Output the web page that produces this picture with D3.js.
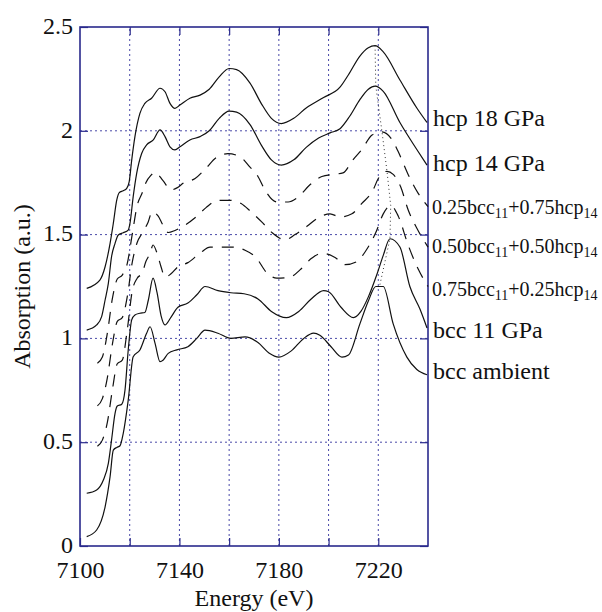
<!DOCTYPE html>
<html>
<head>
<meta charset="utf-8">
<script src="https://cdn.jsdelivr.net/npm/d3@7"></script>
</head>
<body style="margin:0; background:#fff">
<svg id="chart" width="602" height="612"></svg>
<script>
// spectra, [energy eV, absorption]
const hcp18 = [[7102.7,1.241],[7108.0,1.281],[7110.1,1.345],[7112.1,1.458],[7113.4,1.554],[7114.8,1.667],[7115.8,1.702],[7117.4,1.711],[7118.8,1.723],[7119.8,1.755],[7120.8,1.859],[7122.1,1.972],[7124.1,2.084],[7126.1,2.132],[7128.8,2.157],[7132.2,2.205],[7134.2,2.188],[7136.2,2.132],[7138.2,2.108],[7140.2,2.124],[7144.2,2.157],[7148.3,2.172],[7152,2.20],[7156,2.26],[7160,2.30],[7163,2.295],[7168.4,2.23],[7173,2.13],[7177,2.06],[7181,2.035],[7186,2.06],[7191,2.11],[7198,2.16],[7204.6,2.21],[7208,2.27],[7212.6,2.36],[7216,2.40],[7218.7,2.41],[7222,2.38],[7228.7,2.245],[7235.5,2.11],[7239.6,2.04]];
const hcp14 = [[7102.7,1.04],[7106.7,1.065],[7108.7,1.105],[7110.1,1.185],[7111.4,1.265],[7112.7,1.394],[7114.1,1.458],[7115.4,1.498],[7117.4,1.509],[7119.4,1.522],[7120.1,1.554],[7121.4,1.683],[7122.8,1.795],[7124.8,1.891],[7126.8,1.932],[7129.5,1.956],[7132.2,2.004],[7134.2,1.972],[7136.2,1.923],[7138.2,1.908],[7140.2,1.923],[7144.2,1.956],[7148.3,1.972],[7152,2.00],[7156,2.06],[7160,2.095],[7163,2.09],[7168.4,2.03],[7173,1.93],[7177,1.86],[7181,1.835],[7186,1.86],[7191,1.92],[7196,1.965],[7200.6,1.99],[7204.6,2.01],[7208.5,2.07],[7212.6,2.15],[7216,2.20],[7218.7,2.215],[7222,2.19],[7228.7,2.04],[7235.5,1.91],[7239.6,1.835]];
const mix25 = [[7107,0.88],[7109,0.91],[7111,1.025],[7113,1.19],[7115,1.286],[7117,1.305],[7119,1.36],[7121,1.50],[7123,1.64],[7125,1.70],[7126.5,1.75],[7128.5,1.785],[7130.2,1.80],[7133.4,1.76],[7136.6,1.715],[7139,1.725],[7141.8,1.75],[7146.3,1.77],[7150.7,1.82],[7154.7,1.87],[7159.5,1.89],[7164.4,1.875],[7168.4,1.825],[7171.6,1.78],[7174.4,1.715],[7179.2,1.657],[7183.7,1.657],[7187.7,1.68],[7192.5,1.74],[7197.3,1.78],[7201.8,1.79],[7205.8,1.797],[7209.8,1.86],[7213.4,1.91],[7217.5,1.98],[7221.5,1.995],[7225.9,1.95],[7228,1.90],[7232,1.79],[7236,1.70],[7240,1.635]];
const mix50 = [[7107,0.675],[7109,0.71],[7111,0.81],[7113,0.97],[7115,1.082],[7117,1.10],[7119,1.20],[7121,1.365],[7123,1.462],[7125,1.507],[7127.4,1.56],[7129,1.61],[7131.4,1.59],[7133.4,1.545],[7135.5,1.51],[7138.2,1.52],[7142.2,1.545],[7146.7,1.585],[7150.7,1.63],[7155.5,1.665],[7160.3,1.665],[7164.8,1.65],[7168.8,1.61],[7173.2,1.56],[7177.2,1.51],[7182.5,1.475],[7186.5,1.50],[7191.3,1.54],[7195.7,1.58],[7200.6,1.60],[7204.6,1.585],[7209.4,1.60],[7213.4,1.65],[7217.9,1.715],[7220,1.77],[7223.5,1.805],[7226,1.79],[7229,1.73],[7232,1.62],[7236,1.52],[7240,1.44]];
const mix75 = [[7107,0.48],[7109,0.51],[7111,0.595],[7113,0.75],[7115,0.878],[7117,0.895],[7119,1.04],[7121,1.227],[7123,1.29],[7125,1.314],[7126.5,1.37],[7128.2,1.41],[7129.4,1.45],[7131,1.41],[7132.6,1.345],[7134.2,1.295],[7136.5,1.31],[7139.4,1.345],[7143.4,1.365],[7148.7,1.415],[7152.3,1.44],[7156.7,1.44],[7161.5,1.44],[7166.4,1.425],[7170.8,1.39],[7175.2,1.315],[7179.2,1.29],[7184.5,1.295],[7188.5,1.33],[7193.3,1.387],[7197.3,1.41],[7202.6,1.39],[7206.6,1.355],[7211.4,1.37],[7214.6,1.415],[7219,1.51],[7222,1.60],[7225,1.64],[7228,1.59],[7232,1.45],[7236,1.335],[7240,1.25]];
const bcc11 = [[7102.7,0.254],[7106.7,0.27],[7109.4,0.318],[7111.4,0.398],[7112.7,0.511],[7114.1,0.639],[7115.0,0.674],[7116.8,0.683],[7118.1,0.751],[7119.4,0.944],[7120.8,1.089],[7122.1,1.113],[7124.1,1.121],[7126.1,1.125],[7127.5,1.185],[7129.4,1.29],[7131,1.22],[7132.6,1.11],[7134.2,1.065],[7136.5,1.10],[7139.4,1.15],[7143.4,1.17],[7147,1.21],[7150.3,1.25],[7155.5,1.23],[7160.7,1.22],[7166,1.215],[7171.6,1.19],[7177,1.13],[7183,1.10],[7188,1.13],[7193,1.19],[7198,1.23],[7200,1.225],[7205,1.15],[7210,1.10],[7213,1.13],[7216,1.20],[7219.5,1.31],[7222,1.40],[7224.7,1.48],[7228.7,1.44],[7232.7,1.25],[7236.8,1.14],[7239.6,1.05]];
const bccAmb = [[7102.7,0.045],[7106.7,0.077],[7110.1,0.189],[7112.1,0.334],[7113.4,0.462],[7114.8,0.475],[7116.1,0.483],[7117.4,0.543],[7119.4,0.703],[7121.4,0.912],[7124.1,0.944],[7126.8,1.025],[7128.2,1.056],[7130.2,0.976],[7132.2,0.888],[7133.5,0.896],[7135.5,0.928],[7139,0.945],[7143.4,0.96],[7147,1.00],[7150.3,1.04],[7155.5,1.025],[7160.7,1.00],[7166.4,1.007],[7171.6,0.98],[7176,0.93],[7180,0.91],[7185,0.94],[7190,1.00],[7194,1.025],[7196.5,1.015],[7201,0.96],[7205.4,0.91],[7208,0.92],[7212.6,1.07],[7216,1.18],[7219,1.25],[7222,1.25],[7226,1.07],[7231.5,0.91],[7235.5,0.85],[7239.6,0.825]];

// dotted guide through the white-line peaks
const peakE = [7218.7, 7219, 7221.5, 7223.5, 7225, 7224.7, 7220.5];
const peakA = [2.41, 2.215, 1.995, 1.805, 1.64, 1.48, 1.25];

const xTicks = [7100, 7140, 7180, 7220];
const xGrid = [7120, 7140, 7160, 7180, 7200, 7220];
const yTicks = [0, 0.5, 1, 1.5, 2, 2.5];

const plainLabels = ["hcp 18 GPa", "hcp 14 GPa", null, null, null, "bcc 11 GPa", "bcc ambient"];
const mixFractions = [null, null, ["0.25", "0.75"], ["0.50", "0.50"], ["0.75", "0.25"], null, null];
const labelY = [2.06, 1.845, 1.635, 1.443, 1.24, 1.04, 0.843];

const svg = d3.select('#chart'),
    margin = {top: 27, right: 174, bottom: 66, left: 80},
    width = 602 - margin.left - margin.right,
    height = 612 - margin.top - margin.bottom;

const xScale = d3.scaleLinear().domain([7100, 7240]).range([margin.left, margin.left + width]);
const yScale = d3.scaleLinear().domain([0, 2.5]).range([margin.top + height, margin.top]);

const gridColor = "#4a4aa8", boxColor = "#2a2a8c";
const FONT = "Liberation Serif";

// grid
svg.append("g").selectAll("line").data(xGrid).enter().append("line")
    .attr("x1", d => xScale(d)).attr("x2", d => xScale(d))
    .attr("y1", yScale(0)).attr("y2", yScale(2.5))
    .attr("stroke", gridColor).attr("stroke-width", 1).attr("stroke-dasharray", "2,3");
svg.append("g").selectAll("line").data(yTicks.slice(1, -1)).enter().append("line")
    .attr("x1", xScale(7100)).attr("x2", xScale(7240))
    .attr("y1", d => yScale(d)).attr("y2", d => yScale(d))
    .attr("stroke", gridColor).attr("stroke-width", 1).attr("stroke-dasharray", "2,3");

// axes, ticks inside on all four sides
const tickLen = 8;
svg.append("g")
    .attr("transform", `translate(0,${yScale(0)})`)
    .call(d3.axisBottom(xScale).tickValues(xGrid.concat([7100])).tickSizeInner(-tickLen).tickSizeOuter(0).tickFormat(d => xTicks.includes(d) ? d : ""))
    .call(g => g.selectAll("text").attr("y", 15).attr("dy", "0.71em"));
svg.append("g")
    .attr("transform", `translate(0,${yScale(2.5)})`)
    .call(d3.axisTop(xScale).tickValues(xGrid).tickSizeInner(-tickLen).tickSizeOuter(0).tickFormat(""));
svg.append("g")
    .attr("transform", `translate(${xScale(7100)},0)`)
    .call(d3.axisLeft(yScale).tickValues(yTicks).tickSizeInner(-tickLen).tickSizeOuter(0).tickFormat(d3.format("")))
    .call(g => g.selectAll("text").attr("x", -7).attr("dy", "0.26em"));
svg.append("g")
    .attr("transform", `translate(${xScale(7240)},0)`)
    .call(d3.axisRight(yScale).tickValues(yTicks).tickSizeInner(-tickLen).tickSizeOuter(0).tickFormat(""));
svg.selectAll(".domain").remove();
svg.selectAll(".tick line").attr("stroke", boxColor).attr("stroke-width", 1.2);
svg.selectAll(".tick text")
    .attr("fill", "#111")
    .attr("font-family", FONT)
    .attr("font-size", 24);

svg.append("rect")
    .attr("x", xScale(7100)).attr("y", yScale(2.5))
    .attr("width", xScale(7240) - xScale(7100)).attr("height", yScale(0) - yScale(2.5))
    .attr("fill", "none").attr("stroke", boxColor).attr("stroke-width", 1.6);

// spectra
const dline = d3.line()
    .x(d => xScale(d[0]))
    .y(d => yScale(d[1]))
    .curve(d3.curveMonotoneX);

const curves = [hcp18, hcp14, mix25, mix50, mix75, bcc11, bccAmb];
const dashed = [false, false, true, true, true, false, false];

svg.append("g").selectAll("path").data(curves).enter().append("path")
    .attr("d", dline)
    .attr("fill", "none")
    .attr("stroke", "#111")
    .attr("stroke-width", 1.2)
    .attr("stroke-dasharray", (d, i) => dashed[i] ? "12,9" : null);

svg.append("path")
    .datum(peakE.map((e, i) => [e, peakA[i]]))
    .attr("d", d3.line().x(d => xScale(d[0])).y(d => yScale(d[1])))
    .attr("fill", "none")
    .attr("stroke", "#333")
    .attr("stroke-width", 1)
    .attr("stroke-dasharray", "1,3");

// labels at the right end of each spectrum
const lab = svg.append("g");
labelY.forEach(function(v, i){
    let t = lab.append("text")
        .attr("x", xScale(7240) + 5)
        .attr("y", yScale(v))
        .attr("dominant-baseline", "central")
        .attr("fill", "#111")
        .attr("font-family", FONT);
    if (plainLabels[i]) {
        t.attr("font-size", 24).text(plainLabels[i]);
    } else {
        let f = mixFractions[i];
        t.attr("x", xScale(7240) + 4).attr("font-size", 20);
        t.append("tspan").text(f[0] + "bcc");
        t.append("tspan").attr("dy", 6).attr("font-size", 14).text("11");
        t.append("tspan").attr("dy", -6).text("+" + f[1] + "hcp");
        t.append("tspan").attr("dy", 6).attr("font-size", 14).text("14");
    }
});

// axis titles
svg.append("text")
    .attr("x", (xScale(7100) + xScale(7240)) / 2)
    .attr("y", 606)
    .attr("text-anchor", "middle")
    .attr("fill", "#111")
    .attr("font-family", FONT)
    .attr("font-size", 24)
    .text("Energy (eV)");
svg.append("text")
    .attr("transform", `translate(30,${(yScale(0) + yScale(2.5)) / 2}) rotate(-90)`)
    .attr("text-anchor", "middle")
    .attr("fill", "#111")
    .attr("font-family", FONT)
    .attr("font-size", 24)
    .text("Absorption (a.u.)");
</script>
</body>
</html>
